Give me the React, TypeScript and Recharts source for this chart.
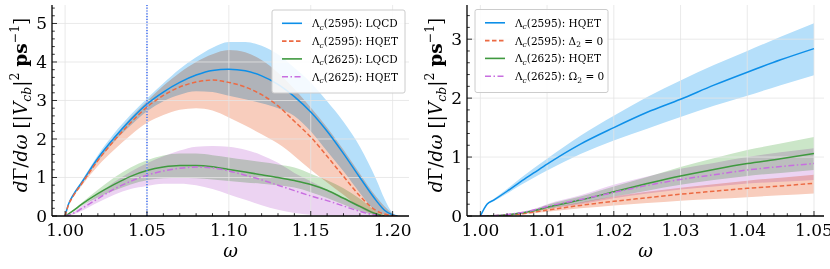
import React from 'react';
import { ComposedChart, Line, Area, XAxis, YAxis, ReferenceLine } from 'recharts';

const FONT = '"DejaVu Serif", "Liberation Serif", serif';

const BLUE = '#0d8fe8';
const BLUE_BAND = '#b5dffa';
const ORANGE = '#ec6a43';
const ORANGE_BAND = '#f8cdbd';
const GREEN = '#3f993f';
const GREEN_BAND = '#cbe6c8';
const VIOLET = '#c86ee0';
const VIOLET_BAND = '#ecd3f2';

// ---------------- Left panel ----------------
const omegaL = [1.0, 1.002, 1.005, 1.01, 1.02, 1.03, 1.04, 1.05, 1.06, 1.07, 1.08, 1.09, 1.1, 1.11, 1.12, 1.13, 1.14, 1.15, 1.16, 1.17, 1.18, 1.19, 1.195, 1.2, 1.203];

const lqcd2595 = [0, 0.3, 0.55, 0.86, 1.5, 2.03, 2.5, 2.91, 3.22, 3.47, 3.66, 3.78, 3.81, 3.77, 3.64, 3.42, 3.1, 2.7, 2.2, 1.62, 1.0, 0.4, 0.15, 0.03, 0];
const lqcd2595Hi = [0, 0.31, 0.58, 0.91, 1.58, 2.15, 2.63, 3.05, 3.45, 3.82, 4.12, 4.37, 4.52, 4.52, 4.42, 4.2, 3.85, 3.47, 2.98, 2.45, 1.8, 0.95, 0.45, 0.08, 0];
const lqcd2595Lo = [0, 0.29, 0.52, 0.82, 1.42, 1.93, 2.35, 2.72, 2.98, 3.15, 3.24, 3.22, 3.12, 3.03, 2.93, 2.8, 2.6, 2.2, 1.68, 1.16, 0.6, 0.12, 0.03, 0, 0];

const hqet2595 = [0, 0.28, 0.52, 0.83, 1.44, 1.96, 2.42, 2.83, 3.13, 3.35, 3.48, 3.53, 3.47, 3.35, 3.15, 2.86, 2.46, 2.05, 1.55, 1.03, 0.52, 0.14, 0.05, 0.01, 0];
const hqet2595Hi = [0, 0.29, 0.55, 0.88, 1.5, 2.05, 2.55, 2.98, 3.38, 3.72, 4.0, 4.2, 4.31, 4.25, 4.05, 3.72, 3.3, 2.82, 2.3, 1.72, 1.1, 0.5, 0.25, 0.06, 0];
const hqet2595Lo = [0, 0.27, 0.49, 0.78, 1.3, 1.72, 2.1, 2.42, 2.62, 2.76, 2.8, 2.74, 2.56, 2.35, 2.12, 1.88, 1.56, 1.2, 0.87, 0.55, 0.22, 0.03, 0, 0, 0];

const lqcd2625 = [0, 0.05, 0.14, 0.3, 0.58, 0.82, 1.03, 1.18, 1.27, 1.31, 1.31, 1.28, 1.21, 1.14, 1.07, 1.0, 0.92, 0.82, 0.67, 0.46, 0.25, 0.05, 0, null, null];
const lqcd2625Hi = [0, 0.06, 0.16, 0.34, 0.68, 1.0, 1.26, 1.45, 1.57, 1.62, 1.62, 1.58, 1.52, 1.46, 1.4, 1.34, 1.26, 1.1, 0.93, 0.72, 0.45, 0.12, 0, null, null];
const lqcd2625Lo = [0, 0.04, 0.12, 0.26, 0.48, 0.66, 0.82, 0.93, 0.98, 0.99, 0.98, 0.95, 0.91, 0.87, 0.84, 0.8, 0.74, 0.62, 0.47, 0.3, 0.13, 0.02, 0, null, null];

const hqet2625 = [0, 0.02, 0.07, 0.19, 0.45, 0.7, 0.9, 1.06, 1.17, 1.24, 1.27, 1.25, 1.17, 1.06, 0.94, 0.8, 0.66, 0.52, 0.4, 0.26, 0.12, 0.02, 0, null, null];
const hqet2625Hi = [0, 0.03, 0.1, 0.25, 0.55, 0.88, 1.15, 1.37, 1.55, 1.7, 1.8, 1.82, 1.8, 1.72, 1.58, 1.38, 1.12, 0.9, 0.68, 0.48, 0.28, 0.08, 0, null, null];
const hqet2625Lo = [0, 0.01, 0.04, 0.13, 0.35, 0.55, 0.7, 0.78, 0.84, 0.84, 0.8, 0.7, 0.56, 0.42, 0.28, 0.16, 0.08, 0.03, 0.01, 0, 0, 0, 0, null, null];

// ---------------- Right panel ----------------
const omegaR = [1.0, 1.001, 1.002, 1.004, 1.006, 1.008, 1.01, 1.015, 1.02, 1.025, 1.03, 1.035, 1.04, 1.045, 1.05];

const hqetR2595 = [0, 0.2, 0.27, 0.42, 0.58, 0.73, 0.88, 1.22, 1.5, 1.76, 1.98, 2.22, 2.44, 2.65, 2.84];
const hqetR2595Hi = [0, 0.21, 0.29, 0.46, 0.64, 0.81, 0.97, 1.36, 1.7, 2.02, 2.3, 2.56, 2.8, 3.04, 3.27];
const hqetR2595Lo = [0, 0.19, 0.25, 0.38, 0.52, 0.65, 0.77, 1.05, 1.28, 1.48, 1.68, 1.87, 2.04, 2.22, 2.39];

const delta2zero = [0, 0, 0.003, 0.015, 0.035, 0.065, 0.1, 0.18, 0.25, 0.31, 0.37, 0.42, 0.47, 0.51, 0.555];
const delta2zeroHi = [0, 0, 0.004, 0.02, 0.045, 0.085, 0.13, 0.23, 0.33, 0.41, 0.48, 0.54, 0.6, 0.65, 0.7];
const delta2zeroLo = [0, 0, 0.002, 0.01, 0.025, 0.045, 0.07, 0.13, 0.18, 0.22, 0.26, 0.29, 0.32, 0.35, 0.38];

const hqetR2625 = [0, 0, 0.005, 0.02, 0.05, 0.09, 0.15, 0.27, 0.41, 0.55, 0.68, 0.79, 0.89, 0.97, 1.06];
const hqetR2625Hi = [0, 0, 0.006, 0.025, 0.06, 0.11, 0.19, 0.33, 0.5, 0.66, 0.83, 0.98, 1.12, 1.23, 1.34];
const hqetR2625Lo = [0, 0, 0.004, 0.015, 0.04, 0.07, 0.12, 0.22, 0.33, 0.43, 0.53, 0.61, 0.68, 0.73, 0.78];

const omega2zero = [0, 0, 0.006, 0.025, 0.055, 0.1, 0.16, 0.28, 0.4, 0.52, 0.62, 0.7, 0.78, 0.84, 0.89];
const omega2zeroHi = [0, 0, 0.007, 0.03, 0.065, 0.12, 0.2, 0.35, 0.53, 0.67, 0.8, 0.9, 1.0, 1.08, 1.15];
const omega2zeroLo = [0, 0, 0.005, 0.02, 0.045, 0.08, 0.12, 0.2, 0.3, 0.38, 0.45, 0.5, 0.55, 0.58, 0.61];

// ---------------- Ticks ----------------
const xMajorL = [1.0, 1.05, 1.1, 1.15, 1.2];
const xMajorR = [1.0, 1.01, 1.02, 1.03, 1.04, 1.05];
const yMajorL = [0, 1, 2, 3, 4, 5];
const yMajorR = [0, 1, 2, 3];
const xDomainL: [number, number] = [0.992, 1.21];
const xDomainR: [number, number] = [0.998, 1.0515];
const yDomainL: [number, number] = [0, 5.48];
const yDomainR: [number, number] = [0, 3.58];
const vLineOmega = 1.05;

const subdivide = (majors: number[], parts: number, max: number) => {
  const step = (majors[1] - majors[0]) / parts;
  const out: number[] = [];
  for (let i = 0; ; i++) {
    const v = +(majors[0] + i * step).toFixed(6);
    if (v > max + 1e-9) break;
    out.push(v);
  }
  return out;
};

const xTicksL = subdivide(xMajorL, 5, 1.2);
const xTicksR = subdivide(xMajorR, 5, 1.05);
const yTicksL = subdivide(yMajorL, 5, 5.4);
const yTicksR = subdivide(yMajorR, 5, 3.4);

const band = (lo: number | null, hi: number | null) => (lo == null || hi == null ? null : [lo, hi]);

const leftData = omegaL.map((w, i) => ({
  w,
  s1: lqcd2595[i], s1b: band(lqcd2595Lo[i], lqcd2595Hi[i]),
  s2: hqet2595[i], s2b: band(hqet2595Lo[i], hqet2595Hi[i]),
  s3: lqcd2625[i], s3b: band(lqcd2625Lo[i], lqcd2625Hi[i]),
  s4: hqet2625[i], s4b: band(hqet2625Lo[i], hqet2625Hi[i]),
}));

const rightData = omegaR.map((w, i) => ({
  w,
  s1: hqetR2595[i], s1b: band(hqetR2595Lo[i], hqetR2595Hi[i]),
  s2: delta2zero[i], s2b: band(delta2zeroLo[i], delta2zeroHi[i]),
  s3: hqetR2625[i], s3b: band(hqetR2625Lo[i], hqetR2625Hi[i]),
  s4: omega2zero[i], s4b: band(omega2zeroLo[i], omega2zeroHi[i]),
}));

const MAJ = 5;
const MIN = 2.8;
const isMajor = (v: number, majors: number[]) => majors.some((m) => Math.abs(m - v) < 1e-7);

const xTick = (majors: number[], top: boolean) => (props: any) => {
  const { x, y, payload } = props;
  const v = payload.value as number;
  const maj = isMajor(v, majors);
  const len = maj ? MAJ : MIN;
  return (
    <g>
      <line x1={x} x2={x} y1={y} y2={top ? y + len : y - len} stroke="#000" strokeWidth={0.8} />
      {!top && maj && (
        <text x={x} y={y + 20} textAnchor="middle" fontFamily={FONT} fontSize={17} fill="#000">
          {v.toFixed(2)}
        </text>
      )}
    </g>
  );
};

const yTick = (majors: number[], right: boolean) => (props: any) => {
  const { x, y, payload } = props;
  const v = payload.value as number;
  const maj = isMajor(v, majors);
  const len = maj ? MAJ : MIN;
  return (
    <g>
      <line x1={x} x2={right ? x - len : x + len} y1={y} y2={y} stroke="#000" strokeWidth={0.8} />
      {!right && maj && (
        <text x={x - 5} y={y + 6} textAnchor="end" fontFamily={FONT} fontSize={17} fill="#000">
          {String(v)}
        </text>
      )}
    </g>
  );
};

const AXIS_LINE = { stroke: '#000', strokeWidth: 1.3 };
const GRID = '#e4e4e4';
const DASH = '4.5 2.5';
const DASHDOT = '6 2.5 1.5 2.5';

type PanelProps = {
  data: any[];
  xDomain: [number, number];
  yDomain: [number, number];
  xTicks: number[];
  yTicks: number[];
  xMajor: number[];
  yMajor: number[];
  vline?: number;
};

const Panel = ({ data, xDomain, yDomain, xTicks, yTicks, xMajor, yMajor, vline }: PanelProps) => (
  <ComposedChart width={415} height={269} data={data} margin={{ top: 5, right: 6, bottom: 23, left: 12 }}>
    <XAxis
      type="number" dataKey="w" domain={xDomain} allowDataOverflow ticks={xTicks} interval={0}
      tickSize={0} tickMargin={0} tickLine={false} axisLine={AXIS_LINE} height={30} tick={xTick(xMajor, false)}
    />
    <XAxis
      xAxisId="top" orientation="top" type="number" dataKey="w" domain={xDomain} allowDataOverflow ticks={xTicks}
      interval={0} tickSize={0} tickMargin={0} tickLine={false} axisLine={AXIS_LINE} height={0} tick={xTick(xMajor, true)}
    />
    <YAxis
      type="number" domain={yDomain} allowDataOverflow ticks={yTicks} interval={0} tickSize={0} tickMargin={0}
      tickLine={false} axisLine={AXIS_LINE} width={40} tick={yTick(yMajor, false)}
    />
    <YAxis
      yAxisId="right" orientation="right" type="number" domain={yDomain} allowDataOverflow ticks={yTicks} interval={0}
      tickSize={0} tickMargin={0} tickLine={false} axisLine={AXIS_LINE} width={0} tick={yTick(yMajor, true)}
    />
    {xMajor.map((v) => (
      <ReferenceLine key={'gx' + v} x={v} stroke={GRID} strokeWidth={0.8} />
    ))}
    {yMajor.map((v) => (
      <ReferenceLine key={'gy' + v} y={v} stroke={GRID} strokeWidth={0.8} />
    ))}
    <Area className="band" type="monotone" dataKey="s1b" stroke="none" fill={BLUE_BAND} fillOpacity={1} isAnimationActive={false} activeDot={false} />
    <Line type="monotone" dataKey="s1" stroke={BLUE} strokeWidth={1.5} dot={false} activeDot={false} isAnimationActive={false} />
    <Area className="band" type="monotone" dataKey="s2b" stroke="none" fill={ORANGE_BAND} fillOpacity={1} isAnimationActive={false} activeDot={false} />
    <Line type="monotone" dataKey="s2" stroke={ORANGE} strokeWidth={1.5} strokeDasharray={DASH} dot={false} activeDot={false} isAnimationActive={false} />
    <Area className="band" type="monotone" dataKey="s3b" stroke="none" fill={GREEN_BAND} fillOpacity={1} isAnimationActive={false} activeDot={false} />
    <Line type="monotone" dataKey="s3" stroke={GREEN} strokeWidth={1.5} dot={false} activeDot={false} isAnimationActive={false} />
    <Area className="band" type="monotone" dataKey="s4b" stroke="none" fill={VIOLET_BAND} fillOpacity={1} isAnimationActive={false} activeDot={false} />
    <Line type="monotone" dataKey="s4" stroke={VIOLET} strokeWidth={1.5} strokeDasharray={DASHDOT} dot={false} activeDot={false} isAnimationActive={false} />
    {vline != null && <ReferenceLine x={vline} stroke="#3f6ff5" strokeWidth={1.5} strokeDasharray="1.2 1.6" />}
  </ComposedChart>
);

const Lam = ({ rest }: { rest: React.ReactNode }) => (
  <>
    Λ<tspan fontStyle="italic" fontSize={7.5} dy={2.5}>c</tspan>
    <tspan dy={-2.5}>{rest}</tspan>
  </>
);

type LegendItem = { color: string; dash?: string; label: React.ReactNode };

const LegendBox = ({ x, y, items }: { x: number; y: number; items: LegendItem[] }) => (
  <g>
    <rect x={x} y={y} width={133} height={83} rx={2} fill="#fff" fillOpacity={0.85} stroke="#cccccc" strokeWidth={1} />
    {items.map((it, i) => {
      const cy = y + 13.3 + i * 17.8;
      return (
        <g key={i}>
          <line x1={x + 10} x2={x + 30} y1={cy} y2={cy} stroke={it.color} strokeWidth={1.6} strokeDasharray={it.dash} />
          <text x={x + 40} y={cy + 4} fontFamily={FONT} fontSize={10.5} fill="#000">
            {it.label}
          </text>
        </g>
      );
    })}
  </g>
);

const YLabel = ({ x }: { x: number }) => (
  <text transform={`translate(${x},105) rotate(-90)`} textAnchor="middle" fontFamily={FONT} fontSize={18.5} fill="#000">
    <tspan fontStyle="italic">d</tspan>Γ/<tspan fontStyle="italic">dω</tspan> [|<tspan fontStyle="italic">V</tspan>
    <tspan fontStyle="italic" fontSize={12.5} dy={3.5}>cb</tspan>
    <tspan dy={-3.5}>|</tspan>
    <tspan fontSize={12.5} dy={-8}>2</tspan>
    <tspan dy={8}> </tspan>
    <tspan fontWeight="bold">ps</tspan>
    <tspan fontSize={12.5} dy={-8}>−1</tspan>
    <tspan dy={8}>]</tspan>
  </text>
);

const XLabel = ({ x }: { x: number }) => (
  <text x={x} y={257} textAnchor="middle" fontFamily={FONT} fontStyle="italic" fontSize={18} fill="#000">
    ω
  </text>
);

const leftLegend: LegendItem[] = [
  { color: BLUE, label: <Lam rest="(2595): LQCD" /> },
  { color: ORANGE, dash: DASH, label: <Lam rest="(2595): HQET" /> },
  { color: GREEN, label: <Lam rest="(2625): LQCD" /> },
  { color: VIOLET, dash: DASHDOT, label: <Lam rest="(2625): HQET" /> },
];

const rightLegend: LegendItem[] = [
  { color: BLUE, label: <Lam rest="(2595): HQET" /> },
  {
    color: ORANGE, dash: DASH,
    label: <Lam rest={<>(2595): Δ<tspan fontSize={7.5} dy={2.5}>2</tspan><tspan dy={-2.5}> = 0</tspan></>} />,
  },
  { color: GREEN, label: <Lam rest="(2625): HQET" /> },
  {
    color: VIOLET, dash: DASHDOT,
    label: <Lam rest={<>(2625): Ω<tspan fontSize={7.5} dy={2.5}>2</tspan><tspan dy={-2.5}> = 0</tspan></>} />,
  },
];

export default function App() {
  return (
    <div style={{ position: 'absolute', left: 0, top: 0, width: 830, height: 269, background: '#fff', overflow: 'hidden' }}>
      <style>{`.band { mix-blend-mode: multiply; }`}</style>
      <div style={{ position: 'absolute', left: 0, top: 0 }}>
        <Panel data={leftData} xDomain={xDomainL} yDomain={yDomainL} xTicks={xTicksL} yTicks={yTicksL} xMajor={xMajorL} yMajor={yMajorL} vline={vLineOmega} />
      </div>
      <div style={{ position: 'absolute', left: 415, top: 0 }}>
        <Panel data={rightData} xDomain={xDomainR} yDomain={yDomainR} xTicks={xTicksR} yTicks={yTicksR} xMajor={xMajorR} yMajor={yMajorR} />
      </div>
      <svg width={830} height={269} style={{ position: 'absolute', left: 0, top: 0, pointerEvents: 'none' }}>
        <YLabel x={27} />
        <YLabel x={442} />
        <XLabel x={230.5} />
        <XLabel x={645.5} />
        <LegendBox x={272} y={10} items={leftLegend} />
        <LegendBox x={475} y={9.5} items={rightLegend} />
      </svg>
    </div>
  );
}
